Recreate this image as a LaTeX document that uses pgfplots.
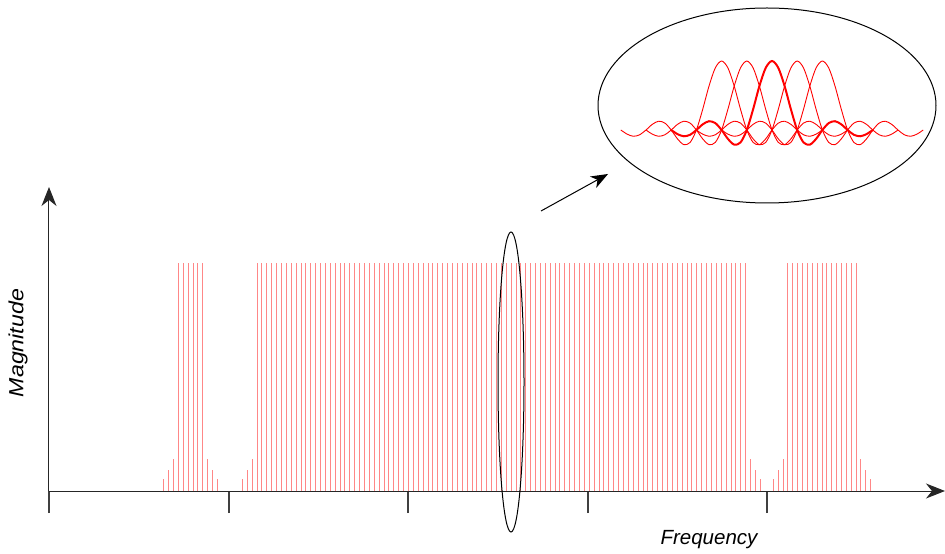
\documentclass[border=0pt]{standalone}
\usepackage{pgfplots}
\pgfplotsset{compat=1.18}
\usepackage{pgfplotstable}
\usepackage{fontspec}
\setmainfont{Liberation Sans}
\usetikzlibrary{arrows.meta}

\definecolor{comb}{RGB}{255,135,135}

% sinc samples (t in subcarrier spacings, s = normalised amplitude)
\pgfplotstableread{
t s
-4 0
-3.75 -0.0600
-3.5 -0.0909
-3.25 -0.0693
-3 0
-2.75 0.0818
-2.5 0.1273
-2.25 0.1000
-2 0
-1.75 -0.1286
-1.5 -0.2122
-1.25 -0.1801
-1 0
-0.75 0.3001
-0.5 0.6366
-0.25 0.9003
0 1
0.25 0.9003
0.5 0.6366
0.75 0.3001
1 0
1.25 -0.1801
1.5 -0.2122
1.75 -0.1286
2 0
2.25 0.1000
2.5 0.1273
2.75 0.0818
3 0
3.25 -0.0693
3.5 -0.0909
3.75 -0.0600
4 0
}\sinctab

\begin{document}
\begin{tikzpicture}
\useasboundingbox (-49pt,-63pt) rectangle (896pt,491pt);
\begin{axis}[
  at={(0pt,0pt)}, anchor=south west,
  x=1pt, y=1pt,
  xmin=0, xmax=896, ymin=0, ymax=304,
  axis lines=left,
  axis line style={line width=1pt, black!85},
  x axis line style={-{Stealth[length=19pt,width=15pt,inset=6pt]}},
  y axis line style={-{Stealth[length=19pt,width=15pt,inset=6pt]}},
  xtick={0,180,359,539,718},
  xticklabels={},
  ytick=\empty,
  xtick align=outside,
  major tick length=22pt,
  tick style={line width=1.3pt, black!75},
  hide obscured x ticks=false,
  clip=false,
]
% left cluster
\addplot[ycomb, comb, line width=0.9pt] coordinates {
(114.3,12)(119.2,21)(124.2,32)(129.1,227.5)(134.1,227.5)(139.0,227.5)
(144.0,227.5)(148.9,227.5)(153.9,227.5)(158.8,32)(163.8,21)(168.7,12)
};
% main cluster
\addplot[ycomb, comb, line width=0.9pt] coordinates {
(193.3,12)(198.2,21)(203.1,32)(208.0,227.5)(212.8,227.5)(217.7,227.5)
(222.6,227.5)(227.5,227.5)(232.4,227.5)(237.3,227.5)(242.2,227.5)(247.1,227.5)
(252.0,227.5)(256.8,227.5)(261.7,227.5)(266.6,227.5)(271.5,227.5)(276.4,227.5)
(281.3,227.5)(286.2,227.5)(291.0,227.5)(295.9,227.5)(300.8,227.5)(305.7,227.5)
(310.6,227.5)(315.5,227.5)(320.4,227.5)(325.2,227.5)(330.1,227.5)(335.0,227.5)
(339.9,227.5)(344.8,227.5)(349.7,227.5)(354.6,227.5)(359.5,227.5)(364.3,227.5)
(369.2,227.5)(374.1,227.5)(379.0,227.5)(383.9,227.5)(388.8,227.5)(393.7,227.5)
(398.5,227.5)(403.4,227.5)(408.3,227.5)(413.2,227.5)(418.1,227.5)(423.0,227.5)
(427.9,227.5)(432.8,227.5)(437.6,227.5)(442.5,227.5)(447.4,227.5)(452.3,227.5)
(457.2,227.5)(462.1,227.5)(467.0,227.5)(471.8,227.5)(476.7,227.5)(481.6,227.5)
(486.5,227.5)(491.4,227.5)(496.3,227.5)(501.2,227.5)(506.1,227.5)(510.9,227.5)
(515.8,227.5)(520.7,227.5)(525.6,227.5)(530.5,227.5)(535.4,227.5)(540.3,227.5)
(545.1,227.5)(550.0,227.5)(554.9,227.5)(559.8,227.5)(564.7,227.5)(569.6,227.5)
(574.5,227.5)(579.4,227.5)(584.2,227.5)(589.1,227.5)(594.0,227.5)(598.9,227.5)
(603.8,227.5)(608.7,227.5)(613.6,227.5)(618.4,227.5)(623.3,227.5)(628.2,227.5)
(633.1,227.5)(638.0,227.5)(642.9,227.5)(647.8,227.5)(652.6,227.5)(657.5,227.5)
(662.4,227.5)(667.3,227.5)(672.2,227.5)(677.1,227.5)(682.0,227.5)(686.9,227.5)
(691.7,227.5)(696.6,227.5)(701.5,32)(706.4,21)(711.3,12)
};
% right cluster
\addplot[ycomb, comb, line width=0.9pt] coordinates {
(724.3,12)(729.2,21)(734.0,32)(738.9,227.5)(743.8,227.5)(748.7,227.5)
(753.5,227.5)(758.4,227.5)(763.3,227.5)(768.1,227.5)(773.0,227.5)(777.9,227.5)
(782.7,227.5)(787.6,227.5)(792.5,227.5)(797.4,227.5)(802.2,227.5)(807.1,227.5)
(811.9,32)(816.8,21)(821.7,12)
};
% annotations
\draw[black, line width=1pt] (axis cs:462,109) ellipse [x radius=13pt, y radius=150pt];
\draw[black, line width=1pt] (axis cs:718,385.5) ellipse [x radius=169pt, y radius=97.5pt];
\draw[black, line width=1pt, -{Stealth[length=17pt,width=13pt,inset=5pt]}] (axis cs:492,280) -- (axis cs:559,317);
\node[rotate=90, xscale=1.13, font=\fontsize{20.5}{24}\selectfont\itshape] at (axis cs:-31,148) {Magnitude};
\node[font=\fontsize{20.5}{24}\selectfont\itshape] at (axis cs:660,-49) {Frequency};
\end{axis}

% inset: overlapping sinc-shaped subcarrier spectra
\begin{axis}[
  at={(546.6pt,340.3pt)}, anchor=south west,
  x=25.2pt, y=69pt,
  xmin=-7, xmax=7, ymin=-0.3, ymax=1.05,
  axis lines=none, clip=false,
]
\addplot[red, line width=0.9pt, smooth] table[x expr=\thisrow{t}-2, y=s] {\sinctab};
\addplot[red, line width=0.9pt, smooth] table[x expr=\thisrow{t}-1, y=s] {\sinctab};
\addplot[red, line width=0.9pt, smooth] table[x expr=\thisrow{t}+1, y=s] {\sinctab};
\addplot[red, line width=0.9pt, smooth] table[x expr=\thisrow{t}+2, y=s] {\sinctab};
\addplot[red, line width=2pt, smooth] table[x=t, y=s] {\sinctab};
\end{axis}
\end{tikzpicture}
\end{document}
